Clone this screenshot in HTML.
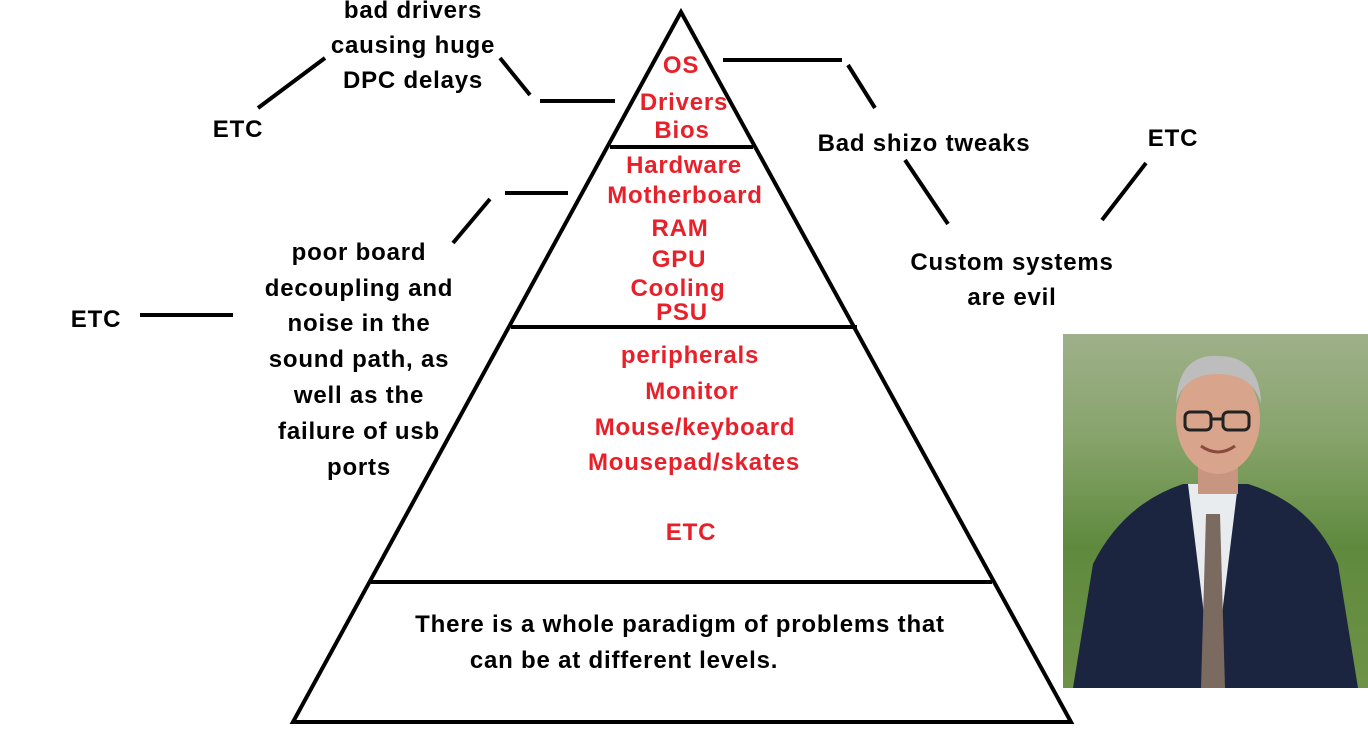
<!DOCTYPE html>
<html><head><meta charset="utf-8"><style>
body{margin:0;width:1368px;height:751px;background:#fff;position:relative;overflow:hidden;font-family:"Liberation Sans",sans-serif;font-weight:bold;}
.t{position:absolute;transform:translate(-50%,-50%);white-space:nowrap;font-size:24px;letter-spacing:0.8px;color:#000;}
.r{color:#e8202a;}
#photo{position:absolute;left:1063px;top:334px;width:305px;height:354px;overflow:hidden;
background:linear-gradient(180deg,#9fb08a 0%,#86a36a 30%,#5f8a3e 60%,#6d9247 100%);}
</style></head><body>
<svg width="1368" height="751" style="position:absolute;left:0;top:0">
<g stroke="#000" stroke-width="4" fill="none">
<polygon points="681,12 293,722 1071,722"/>
<line x1="610" y1="147" x2="753" y2="147"/>
<line x1="511" y1="327" x2="857" y2="327"/>
<line x1="371" y1="582" x2="992" y2="582"/>
<line x1="258" y1="108" x2="325" y2="58"/>
<line x1="500" y1="58" x2="530" y2="95"/>
<line x1="540" y1="101" x2="615" y2="101"/>
<line x1="723" y1="60" x2="842" y2="60"/>
<line x1="848" y1="65" x2="875" y2="108"/>
<line x1="905" y1="160" x2="948" y2="224"/>
<line x1="1102" y1="220" x2="1146" y2="163"/>
<line x1="505" y1="193" x2="568" y2="193"/>
<line x1="453" y1="243" x2="490" y2="199"/>
<line x1="140" y1="315" x2="233" y2="315"/>
</g></svg>
<div class="t" style="left:413px;top:11px">bad drivers</div>
<div class="t" style="left:413px;top:46px">causing huge</div>
<div class="t" style="left:413px;top:81px">DPC delays</div>
<div class="t" style="left:238px;top:130px">ETC</div>
<div class="t" style="left:96px;top:320px">ETC</div>
<div class="t" style="left:1173px;top:139px">ETC</div>
<div class="t" style="left:924px;top:144px">Bad shizo tweaks</div>
<div class="t" style="left:1012px;top:263px">Custom systems</div>
<div class="t" style="left:1012px;top:298px">are evil</div>
<div class="t" style="left:359px;top:253px">poor board</div>
<div class="t" style="left:359px;top:289px">decoupling and</div>
<div class="t" style="left:359px;top:324px">noise in the</div>
<div class="t" style="left:359px;top:360px">sound path, as</div>
<div class="t" style="left:359px;top:396px">well as the</div>
<div class="t" style="left:359px;top:432px">failure of usb</div>
<div class="t" style="left:359px;top:468px">ports</div>
<div class="t r" style="left:681px;top:66px">OS</div>
<div class="t r" style="left:684px;top:103px">Drivers</div>
<div class="t r" style="left:682px;top:131px">Bios</div>
<div class="t r" style="left:684px;top:166px">Hardware</div>
<div class="t r" style="left:685px;top:196px">Motherboard</div>
<div class="t r" style="left:680px;top:229px">RAM</div>
<div class="t r" style="left:679px;top:260px">GPU</div>
<div class="t r" style="left:678px;top:289px">Cooling</div>
<div class="t r" style="left:682px;top:313px">PSU</div>
<div class="t r" style="left:690px;top:356px">peripherals</div>
<div class="t r" style="left:692px;top:392px">Monitor</div>
<div class="t r" style="left:695px;top:428px">Mouse/keyboard</div>
<div class="t r" style="left:694px;top:463px">Mousepad/skates</div>
<div class="t r" style="left:691px;top:533px">ETC</div>
<div class="t" style="left:680px;top:625px">There is a whole paradigm of problems that</div>
<div class="t" style="left:624px;top:661px">can be at different levels.</div>
<div id="photo">
<svg width="305" height="354">
<path d="M10,354 L30,230 Q60,170 120,150 L185,150 Q250,170 275,230 L295,354 Z" fill="#1c2540"/>
<path d="M125,150 L150,354 L175,150 Z" fill="#e8ecef"/>
<path d="M143,180 L157,180 L162,354 L138,354 Z" fill="#7a6a60"/>
<rect x="135" y="120" width="40" height="40" fill="#c89580"/>
<ellipse cx="155" cy="85" rx="42" ry="55" fill="#d9a48c"/>
<path d="M113,70 Q115,20 155,22 Q197,22 198,70 Q190,40 155,40 Q120,40 113,70Z" fill="#bdbdbd"/>
<g stroke="#222" stroke-width="3" fill="none"><rect x="122" y="78" width="26" height="18" rx="5"/><rect x="160" y="78" width="26" height="18" rx="5"/><line x1="148" y1="85" x2="160" y2="85"/></g>
<path d="M138,112 Q155,124 172,112" stroke="#8a4a40" stroke-width="3" fill="none"/>
</svg></div>
</body></html>
